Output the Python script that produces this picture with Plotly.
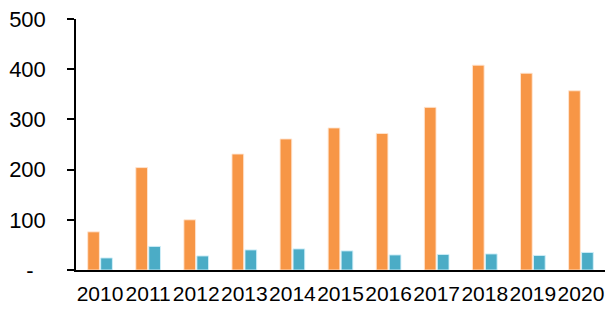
import plotly.graph_objects as go

years = ["2010", "2011", "2012", "2013", "2014", "2015", "2016", "2017", "2018", "2019", "2020"]
series_a = [76, 204, 100, 231, 261, 283, 272, 324, 408, 392, 357]
series_b = [24, 47, 28, 40, 42, 38, 30, 31, 32, 29, 35]
y_tickvals = [0, 100, 200, 300, 400, 500]
y_ticktext = ["-\u00a0\u00a0", "100", "200", "300", "400", "500"]

FONT = "Arial, Liberation Sans, sans-serif"

fig = go.Figure()
fig.add_trace(go.Bar(x=years, y=series_a, name="A",
                     marker=dict(color="#F79646", line=dict(color="rgba(255,230,210,0.9)", width=1))))
fig.add_trace(go.Bar(x=years, y=series_b, name="B",
                     marker=dict(color="#4BACC6", line=dict(color="rgba(210,240,250,0.9)", width=1))))

fig.update_layout(
    width=608, height=309,
    margin=dict(l=76, r=3, t=19, b=39),
    paper_bgcolor="white", plot_bgcolor="white",
    barmode="group", bargap=0.46, bargroupgap=0.1,
    showlegend=False,
    font=dict(family=FONT, size=21, color="#000000"),
)
fig.update_xaxes(
    type="category", showgrid=False, showline=True, linecolor="black", linewidth=2,
    ticks="", tickangle=0, automargin=False, ticklabeloverflow="allow",
    tickfont=dict(size=21, family=FONT, color="black"), ticklabelstandoff=4,
)
fig.update_yaxes(
    range=[0, 500], tickvals=y_tickvals, ticktext=y_ticktext, automargin=False,
    ticklabeloverflow="allow", ticklabelstandoff=17,
    showgrid=False, zeroline=False, showline=True, linecolor="black", linewidth=1.5,
    ticks="outside", ticklen=7, tickwidth=1.5, tickcolor="black",
    tickfont=dict(size=22, family=FONT, color="black"),
)
fig.write_html(
    "out.html",
    config={"displayModeBar": False},
    post_script="document.body.style.margin='0';document.body.style.overflow='hidden';",
)
